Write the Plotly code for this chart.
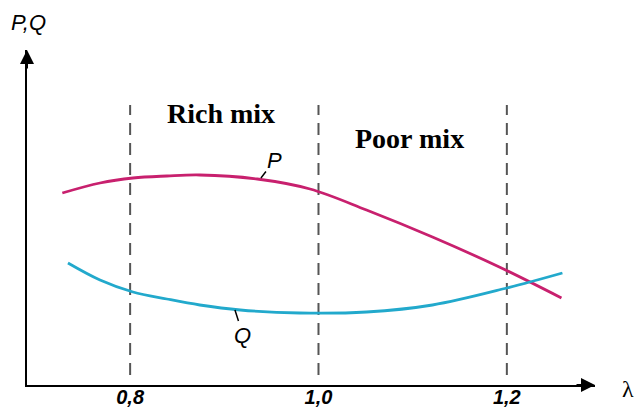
import plotly.graph_objects as go

# Data (arbitrary units on the vertical axis)
lam_P = [0.728, 0.768, 0.803, 0.839, 0.874, 0.935, 0.991, 1.051, 1.121, 1.192, 1.258]
P = [1.92, 2.02, 2.07, 2.09, 2.10, 2.06, 1.96, 1.75, 1.48, 1.18, 0.87]
lam_Q = [0.734, 0.768, 0.803, 0.839, 0.874, 0.917, 0.980, 1.051, 1.121, 1.200, 1.259]
Q = [1.22, 1.05, 0.93, 0.86, 0.80, 0.75, 0.72, 0.73, 0.80, 0.97, 1.12]
boundaries = [0.8, 1.0, 1.2]
tick_text = ["0,8", "1,0", "1,2"]
regions = ["Rich mix", "Poor mix"]

X_MIN, X_MAX = 0.6905, 1.2936
Y_MIN, Y_MAX = 0.0, 3.35

P_COLOR = "#c8206e"
Q_COLOR = "#22a9cc"

fig = go.Figure()
fig.add_trace(go.Scatter(x=lam_P, y=P, mode="lines", line=dict(color=P_COLOR, width=2.8, shape="spline"),
                         name="P", showlegend=False, hoverinfo="skip"))
fig.add_trace(go.Scatter(x=lam_Q, y=Q, mode="lines", line=dict(color=Q_COLOR, width=2.8, shape="spline"),
                         name="Q", showlegend=False, hoverinfo="skip"))

shapes = []
for b in boundaries:
    shapes.append(dict(type="line", xref="x", yref="y", x0=b, x1=b, y0=0.10, y1=2.80,
                       line=dict(color="#555555", width=2, dash="12px,8px"), layer="below"))

ann = []
# axis arrows
ann.append(dict(x=X_MAX, y=0, xref="x", yref="y", ax=-20, ay=0,
                text="", showarrow=True, arrowhead=2, arrowsize=1.4, arrowwidth=2, arrowcolor="black"))
ann.append(dict(x=X_MIN, y=Y_MAX, xref="x", yref="y", ax=0, ay=20, text="", showarrow=True,
                arrowhead=2, arrowsize=1.4, arrowwidth=2, arrowcolor="black"))
# axis titles (paper coordinates, outside the plotting area)
ann.append(dict(x=1.058, y=-0.012, xref="paper", yref="paper", xanchor="center", yanchor="middle",
                text="λ", showarrow=False,
                font=dict(family="Liberation Serif", size=24, color="black")))
ann.append(dict(x=0.0035, y=1.0806, xref="paper", yref="paper", xanchor="center", yanchor="middle",
                text="<i>P,Q</i>", showarrow=False,
                font=dict(family="Liberation Sans", size=22, color="black")))
# region labels
ann.append(dict(x=0.8964, y=2.72, xref="x", yref="y", text="<b>%s</b>" % regions[0], showarrow=False,
                font=dict(family="Liberation Serif", size=28, color="black")))
ann.append(dict(x=1.0968, y=2.47, xref="x", yref="y", text="<b>%s</b>" % regions[1], showarrow=False,
                font=dict(family="Liberation Serif", size=28, color="black")))
# curve labels
ann.append(dict(x=0.9389, y=2.07, xref="x", yref="y", ax=14, ay=-18, text="<i>P</i>", showarrow=True,
                arrowhead=0, arrowwidth=1.5, arrowcolor="black", standoff=0,
                font=dict(family="Liberation Sans", size=22, color="black")))
ann.append(dict(x=0.9113, y=0.75, xref="x", yref="y", ax=8, ay=25, text="<i>Q</i>", showarrow=True,
                arrowhead=0, arrowwidth=1.5, arrowcolor="black", standoff=0,
                font=dict(family="Liberation Sans", size=22, color="black")))

fig.update_layout(
    width=639, height=414,
    margin=dict(l=27, r=44, t=50, b=29, autoexpand=False),
    paper_bgcolor="white", plot_bgcolor="white",
    shapes=shapes, annotations=ann,
    xaxis=dict(range=[X_MIN, X_MAX], showgrid=False, zeroline=False, showline=True, automargin=False,
               linecolor="black", linewidth=2, tickmode="array", tickvals=boundaries,
               ticktext=["<b><i>%s</i></b>" % t for t in tick_text], ticks="", ticklabelstandoff=-7,
               tickfont=dict(family="Liberation Sans", size=20, color="black")),
    yaxis=dict(range=[Y_MIN, Y_MAX], showgrid=False, zeroline=False, showline=True, automargin=False,
               linecolor="black", linewidth=2, showticklabels=False, ticks=""),
)

fig.write_html("out.html", config={"displayModeBar": False},
               post_script="document.body.style.margin='0';")
